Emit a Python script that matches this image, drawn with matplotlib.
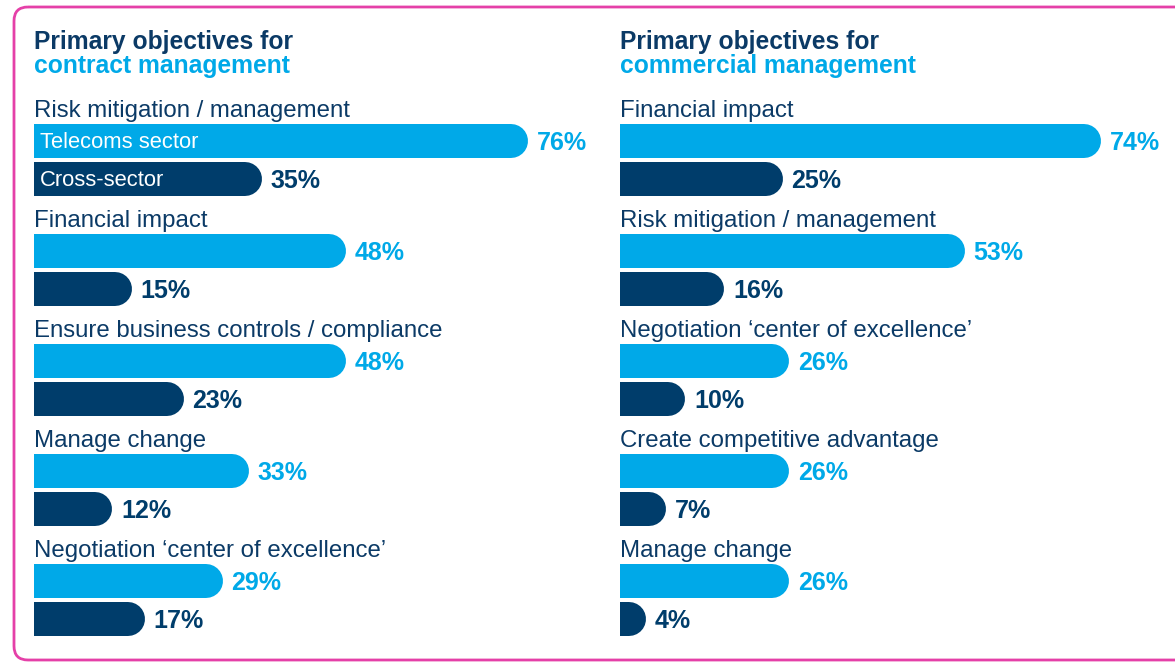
import matplotlib
matplotlib.use("Agg")
import matplotlib.pyplot as plt
from matplotlib.patches import FancyBboxPatch

plt.rcParams['font.family'] = ['Liberation Sans', 'DejaVu Sans']

# data
contract_categories = ['Risk mitigation / management', 'Financial impact',
                       'Ensure business controls / compliance', 'Manage change',
                       'Negotiation \u2018center of excellence\u2019']
contract_telecoms = [76, 48, 48, 33, 29]
contract_cross = [35, 15, 23, 12, 17]

commercial_categories = ['Financial impact', 'Risk mitigation / management',
                         'Negotiation \u2018center of excellence\u2019',
                         'Create competitive advantage', 'Manage change']
commercial_telecoms = [74, 53, 26, 26, 26]
commercial_cross = [25, 16, 10, 7, 4]

series_names = ['Telecoms sector', 'Cross-sector']

LIGHT = '#00a9e8'
DARK = '#003d6b'
TITLE_DARK = '#0b3a66'
PINK = '#e540a8'

W, H = 1175, 665
PX_PER_PCT = 6.5
BAR_PX = 34
R = BAR_PX / 2 / PX_PER_PCT   # cap radius in % units
LW = BAR_PX * 72 / 100        # bar thickness in points

fig = plt.figure(figsize=(W / 100, H / 100), dpi=100)

# frame
frame = fig.add_axes([0, 0, 1, 1])
frame.set_xlim(0, W)
frame.set_ylim(H, 0)
frame.axis('off')
frame.add_patch(FancyBboxPatch((14, 7), W + 30, 653,
                               boxstyle='round,pad=0,rounding_size=14',
                               fill=False, edgecolor=PINK, linewidth=2.0))


def panel(x0, width, title2, categories, telecoms, cross, legend):
    ax = fig.add_axes([x0 / W, 0, width / W, 1])
    ax.set_xlim(0, width / PX_PER_PCT)
    ax.set_ylim(H, 0)
    ax.axis('off')

    ax.text(0, 42, 'Primary objectives for', fontsize=17.7, fontweight='bold',
            color=TITLE_DARK, va='center', ha='left')
    ax.text(0, 66, title2, fontsize=17.7, fontweight='bold',
            color=LIGHT, va='center', ha='left')

    for i, cat in enumerate(categories):
        y_lab = 109 + 110 * i
        ax.text(0, y_lab + 2, cat, fontsize=17.3, color=TITLE_DARK,
                va='center', ha='left')
        for val, y, col in [(telecoms[i], y_lab + 32, LIGHT),
                            (cross[i], y_lab + 70, DARK)]:
            ax.plot([0, val - R], [y, y], color=col, linewidth=LW,
                    solid_capstyle='round')
            ax.text(val + 1.4, y + 2, f'{val}%', fontsize=18, fontweight='bold',
                    color=col, va='center', ha='left')
        if legend and i == 0:
            ax.text(0.9, y_lab + 33, series_names[0], fontsize=15.8,
                    color='white', va='center', ha='left')
            ax.text(0.9, y_lab + 71, series_names[1], fontsize=15.8,
                    color='white', va='center', ha='left')


panel(34, 566, 'contract management', contract_categories,
      contract_telecoms, contract_cross, True)
panel(620, 555, 'commercial management', commercial_categories,
      commercial_telecoms, commercial_cross, False)

fig.savefig('out.png', dpi=100)
